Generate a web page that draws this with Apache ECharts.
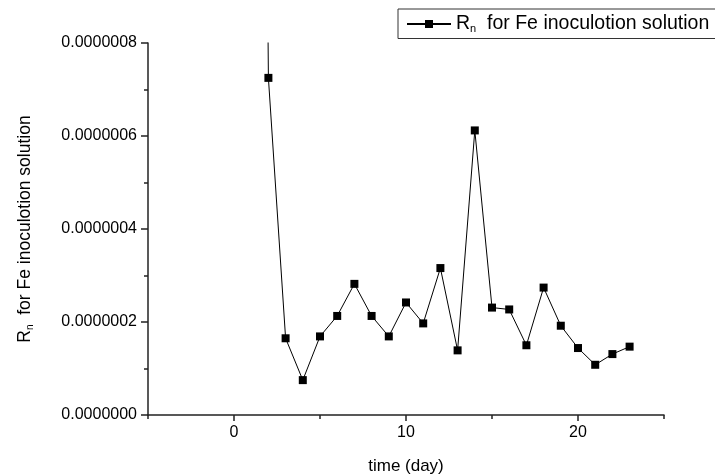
<!DOCTYPE html>
<html>
<head>
<meta charset="utf-8">
<script src="https://cdn.jsdelivr.net/npm/echarts@6/dist/echarts.min.js"></script>
<style>
	html, body { margin: 0; padding: 0; background: #fff; }
	#main { width: 715px; height: 474px; }
</style>
</head>
<body>
<div id="main"></div>
<script>
	// day 1 lies far above the plot (clipped), value is a guess
	var days = [ 1, 2, 3, 4, 5, 6, 7, 8, 9, 10, 11, 12, 13, 14, 15, 16, 17, 18, 19, 20, 21, 22, 23 ];
	var rnValues = [ 5.0e-6, 7.25e-7, 1.65e-7, 0.75e-7, 1.69e-7, 2.13e-7, 2.82e-7, 2.13e-7, 1.69e-7,
		2.42e-7, 1.97e-7, 3.16e-7, 1.39e-7, 6.12e-7, 2.31e-7, 2.27e-7, 1.50e-7, 2.74e-7,
		1.92e-7, 1.44e-7, 1.08e-7, 1.31e-7, 1.47e-7 ];
	var xMajorTicks = [ 0, 10, 20 ];
	var xMinorTicks = [ -5, 5, 15, 25 ];

	var font = "'Liberation Sans', Arial, sans-serif";
	var axisColor = '#222';

	var points = [];
	for (var i = 0; i < days.length; i++) {
		points.push([ days[i], rnValues[i] ]);
	}

	var option = {
		animation : false,
		backgroundColor : '#fff',
		textStyle : {
			fontFamily : font
		},
		grid : {
			left : 148,
			right : 51,
			top : 43,
			bottom : 59,
			containLabel : false,
			outerBoundsMode : 'none'
		},
		legend : {
			left : 398,
			top : 9,
			padding : [ 5, 14, 4, 8 ],
			borderColor : '#333',
			borderWidth : 1,
			itemWidth : 44,
			itemHeight : 10,
			itemGap : 4,
			data : [ 'Rn' ],
			formatter : function() {
				return '{r|R}{s|n}{r|  for Fe inoculotion solution}';
			},
			textStyle : {
				color : '#000',
				fontFamily : font,
				rich : {
					r : { fontSize : 19.5, color : '#000', fontFamily : font },
					s : { fontSize : 11, color : '#000', fontFamily : font, padding : [ 10, 0, 0, 0 ] }
				}
			}
		},
		xAxis : [
			{
				type : 'value',
				min : -5,
				max : 25,
				position : 'bottom',
				name : 'time (day)',
				nameLocation : 'middle',
				nameGap : 43,
				nameTextStyle : { fontSize : 17, color : '#000', fontFamily : font },
				axisLine : { onZero : false, lineStyle : { color : axisColor, width : 1.5 } },
				axisTick : { customValues : xMajorTicks, length : 6, lineStyle : { color : axisColor, width : 1.5 } },
				axisLabel : { customValues : xMajorTicks, margin : 10, fontSize : 16, color : '#000', fontFamily : font },
				splitLine : { show : false }
			},
			{
				type : 'value',
				min : -5,
				max : 25,
				position : 'bottom',
				offset : 0,
				axisLine : { show : false },
				axisTick : { customValues : xMinorTicks, length : 4, lineStyle : { color : axisColor, width : 1.5 } },
				axisLabel : { show : false },
				splitLine : { show : false }
			}
		],
		yAxis : {
			type : 'value',
			min : 0,
			max : 8e-7,
			interval : 2e-7,
			name : '{r|R}{s|n}{r|  for Fe inoculotion solution}',
			nameLocation : 'middle',
			nameGap : 113,
			nameTextStyle : {
				color : '#000',
				rich : {
					r : { fontSize : 17.5, color : '#000', fontFamily : font },
					s : { fontSize : 10, color : '#000', fontFamily : font, padding : [ 10, 0, 0, 0 ] }
				}
			},
			axisLine : { show : true, onZero : false, lineStyle : { color : axisColor, width : 1.5 } },
			axisTick : { show : true, length : 7, lineStyle : { color : axisColor, width : 1.5 } },
			minorTick : { show : true, splitNumber : 2, length : 4, lineStyle : { color : axisColor, width : 1.5 } },
			axisLabel : {
				margin : 11,
				fontSize : 16,
				color : '#000',
				fontFamily : font,
				formatter : function(v) {
					return v.toFixed(7);
				}
			},
			splitLine : { show : false }
		},
		series : [
			{
				name : 'Rn',
				type : 'line',
				xAxisIndex : 0,
				clip : true,
				symbol : 'rect',
				symbolSize : 8,
				showAllSymbol : true,
				lineStyle : { color : '#000', width : 1 },
				itemStyle : { color : '#000' },
				data : points
			}
		]
	};

	var chart = echarts.init(document.getElementById('main'));
	chart.setOption(option);
</script>
</body>
</html>
